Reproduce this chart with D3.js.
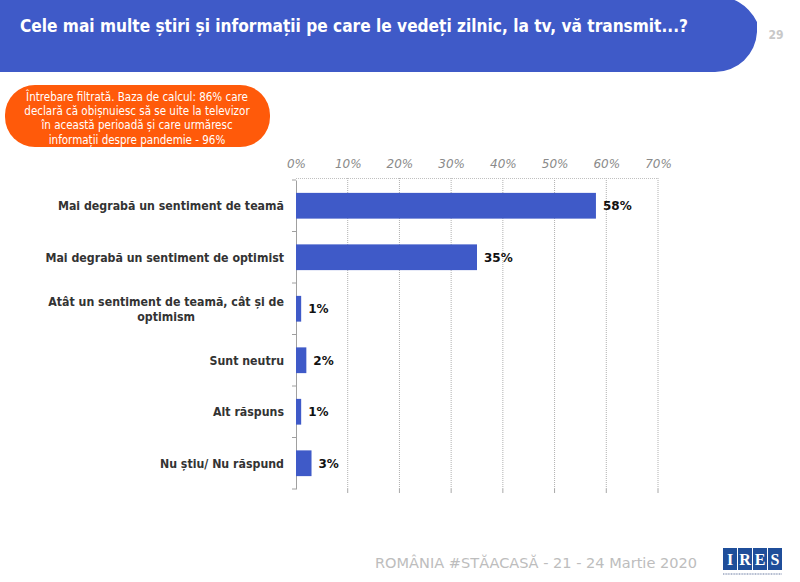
<!DOCTYPE html>
<html><head><meta charset="utf-8">
<script src="https://cdn.jsdelivr.net/npm/d3@7"></script>
<style>body{margin:0;background:#fff}svg{display:block}</style>
</head><body>
<script>
const categories = [
  "Mai degrabă un sentiment de teamă",
  "Mai degrabă un sentiment de optimist",
  "Atât un sentiment de teamă, cât și de optimism",
  "Sunt neutru",
  "Alt răspuns",
  "Nu știu/ Nu răspund"
];
const labelLines = [
  ["Mai degrabă un sentiment de teamă"],
  ["Mai degrabă un sentiment de optimist"],
  ["Atât un sentiment de teamă, cât și de", "optimism"],
  ["Sunt neutru"],
  ["Alt răspuns"],
  ["Nu știu/ Nu răspund"]
];
const values = [58, 35, 1, 2, 1, 3];
const tickValues = [0, 10, 20, 30, 40, 50, 60, 70];
const title = "Cele mai multe știri și informații pe care le vedeți zilnic, la tv, vă transmit...?";
const noteLines = [
  "Întrebare filtrată. Baza de calcul: 86% care",
  "declară că obișnuiesc să se uite la televizor",
  "în această perioadă și care urmăresc",
  "informații despre pandemie - 96%"
];
const footer = "ROMÂNIA #STĂACASĂ - 21 - 24 Martie  2020";
const pageNum = "29";

const W = 800, H = 582;
const svg = d3.select("body").append("svg").attr("width", W).attr("height", H);
const BLUE = "#3f5ac8";

// Title banner
const bx1 = 757, by1 = 72, r = 42;
svg.append("path")
  .attr("d", `M0,-2 L${bx1 - r},-2 A${r},${r + 10} 0 0 1 ${bx1},${by1 - r - 8} L${bx1},${by1 - r + 2} A${r},${r} 0 0 1 ${bx1 - r},${by1} L0,${by1} Z`)
  .attr("fill", BLUE);
svg.append("text").attr("x", 20).attr("y", 32)
  .attr("font-family", "DejaVu Sans Condensed, DejaVu Sans").attr("font-weight", "bold")
  .attr("font-size", 17).attr("fill", "#fff")
  .attr("textLength", 668).attr("lengthAdjust", "spacingAndGlyphs")
  .text(title);
svg.append("text").attr("x", 776).attr("y", 39).attr("text-anchor", "middle")
  .attr("font-family", "DejaVu Sans Condensed, DejaVu Sans").attr("font-weight", "bold")
  .attr("font-size", 12).attr("fill", "#c8c8c8").text(pageNum);

// Orange note
svg.append("rect").attr("x", 5).attr("y", 85).attr("width", 265).attr("height", 62)
  .attr("rx", 30).attr("ry", 30).attr("fill", "#ff5a0a");
svg.append("g").selectAll("text").data(noteLines).join("text")
  .attr("x", 137).attr("y", (d, i) => 101 + i * 14.2)
  .attr("text-anchor", "middle")
  .attr("font-family", "Liberation Sans Narrow, DejaVu Sans Condensed")
  .attr("font-size", 11.5).attr("fill", "#fff")
  .text(d => d);

// Scales
const x = d3.scaleLinear().domain([0, 70]).range([296, 658]);
const y = d3.scaleBand().domain(categories).range([180, 489]).paddingInner(0.5).paddingOuter(0.25);

// Gridlines
const grid = svg.append("g");
grid.selectAll("line.v").data(tickValues.slice(1)).join("line")
  .attr("x1", d => x(d)).attr("x2", d => x(d)).attr("y1", 178).attr("y2", 490)
  .attr("stroke", "#b0b0b0").attr("stroke-width", 1).attr("stroke-dasharray", "1,1");
grid.append("line").attr("x1", x(0)).attr("x2", x(70)).attr("y1", 178.5).attr("y2", 178.5)
  .attr("stroke", "#c0c0c0").attr("stroke-dasharray", "1,1");
grid.selectAll("line.t").data(tickValues.slice(1)).join("line")
  .attr("x1", d => x(d)).attr("x2", d => x(d)).attr("y1", 489).attr("y2", 493)
  .attr("stroke", "#a8a8a8");

// Top axis tick labels
const xAxis = d3.axisTop(x).tickValues(tickValues).tickFormat(d => d + "%").tickSize(0).tickPadding(0);
const gx = svg.append("g").attr("transform", "translate(0,168)").call(xAxis);
gx.select(".domain").remove();
gx.selectAll("text").attr("font-family", "DejaVu Sans, Verdana").attr("font-style", "italic")
  .attr("font-size", 12).attr("fill", "#8a8a8a");

// Left axis
const yAxis = d3.axisLeft(y).tickValues([]).tickSizeOuter(0);
const gy = svg.append("g").attr("transform", `translate(${x(0)},0)`).call(yAxis);
gy.select(".domain").attr("stroke", "#a0a0a0");
const bounds = categories.map(c => y(c) - y.step() * y.paddingInner() / 2);
bounds.push(489);
gy.selectAll("line.b").data(bounds).join("line")
  .attr("x1", -4).attr("x2", 0).attr("y1", d => d).attr("y2", d => d)
  .attr("stroke", "#a0a0a0");

// Bars
svg.append("g").selectAll("rect").data(values).join("rect")
  .attr("x", x(0)).attr("y", (d, i) => y(categories[i]))
  .attr("width", d => x(d) - x(0)).attr("height", y.bandwidth())
  .attr("fill", BLUE);

// Value labels
svg.append("g").selectAll("text").data(values).join("text")
  .attr("x", d => x(d) + 7).attr("y", (d, i) => y(categories[i]) + y.bandwidth() / 2 + 4.5)
  .attr("font-family", "DejaVu Sans, Verdana").attr("font-weight", "bold")
  .attr("font-size", 12).attr("fill", "#111")
  .text(d => d + "%");

// Category labels (horizontally compressed group)
const SX = 0.92;
const labG = svg.append("g").attr("transform", `translate(284,0) scale(${SX},1)`);
labelLines.forEach((lines, i) => {
  const cy = y(categories[i]) + y.bandwidth() / 2;
  const lh = 15;
  const t = labG.append("text")
    .attr("font-family", "DejaVu Sans, Verdana").attr("font-weight", "bold")
    .attr("font-size", 12).attr("fill", "#333");
  const first = t.append("tspan").attr("text-anchor", "end").attr("x", 0)
    .attr("y", cy + 4.5 - (lines.length - 1) / 2 * lh).text(lines[0]);
  if (lines.length > 1) {
    const w = first.node().getComputedTextLength();
    t.append("tspan").attr("text-anchor", "middle").attr("x", -w / 2)
      .attr("y", cy + 4.5 + lh / 2).text(lines[1]);
  }
});

// Footer
svg.append("text").attr("x", 375).attr("y", 568)
  .attr("font-family", "DejaVu Sans, Verdana").attr("font-size", 14).attr("fill", "#bdbdbd")
  .attr("textLength", 322).attr("lengthAdjust", "spacingAndGlyphs")
  .text(footer);

// IRES logo
const logo = svg.append("g").attr("transform", "translate(723,548)");
["I", "R", "E", "S"].forEach((ch, i) => {
  logo.append("rect").attr("x", i * 15).attr("y", 0).attr("width", 14).attr("height", 22).attr("fill", "#1f4e9a");
  logo.append("text").attr("x", i * 15 + 7).attr("y", 17).attr("text-anchor", "middle")
    .attr("font-family", "Liberation Serif, DejaVu Serif").attr("font-weight", "bold")
    .attr("font-size", 16).attr("fill", "#fff").text(ch);
});
logo.append("line").attr("x1", 0).attr("x2", 59).attr("y1", 26).attr("y2", 26)
  .attr("stroke", "#9aa6c0").attr("stroke-width", 1.5).attr("stroke-dasharray", "1,0.6");
</script>
</body></html>
